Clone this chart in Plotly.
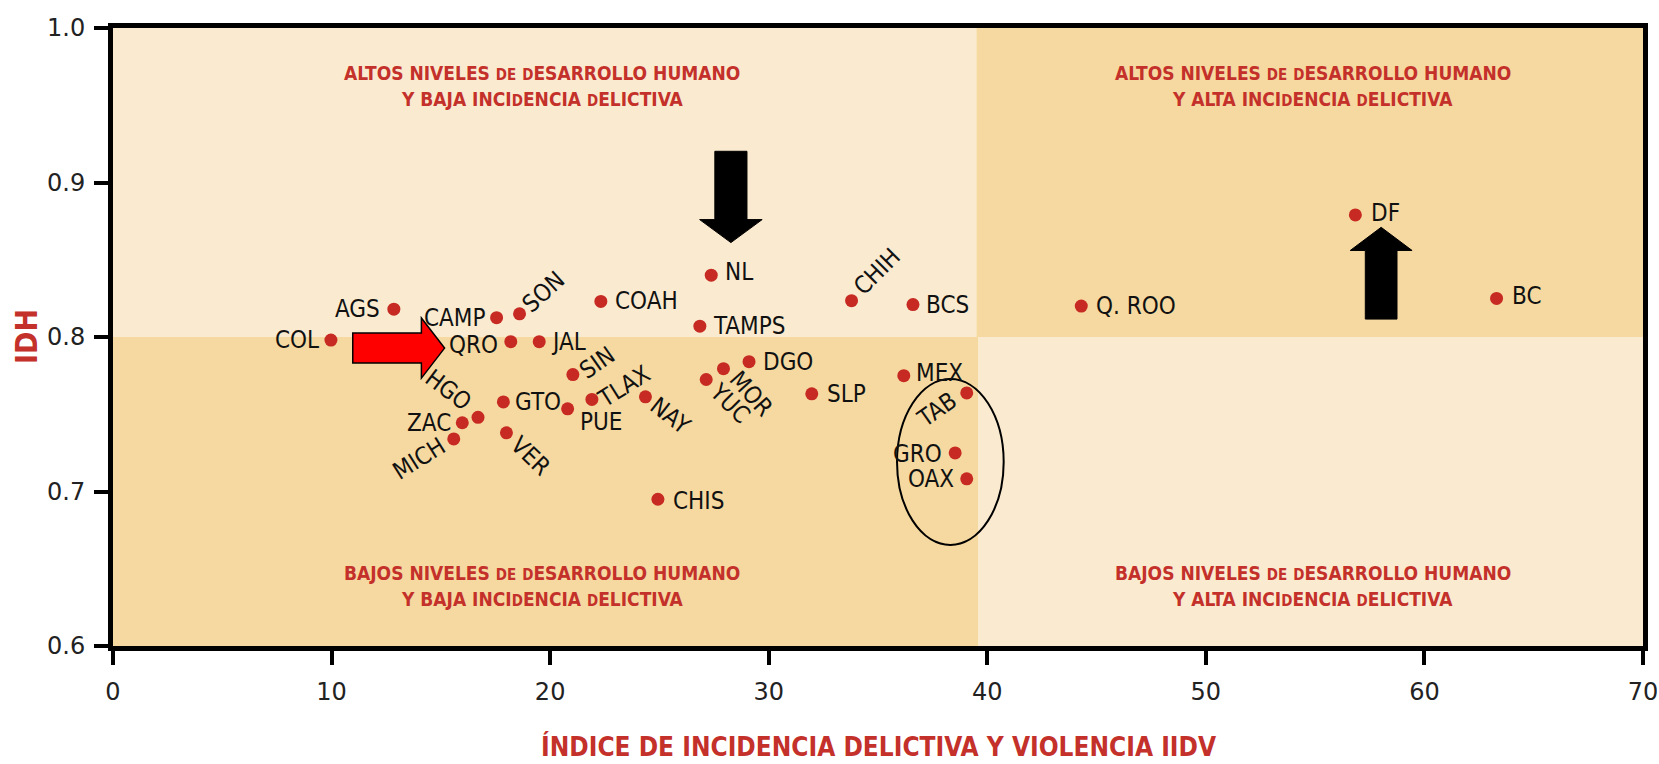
import plotly.graph_objects as go

# ─────────────────────────────────────────────
# Datos: Índice de incidencia delictiva (IIDV) vs IDH por entidad
# ─────────────────────────────────────────────

ESTADOS = ["COL", "AGS", "CAMP", "SON", "QRO", "JAL", "COAH", "NL", "TAMPS",
           "CHIH", "BCS", "Q. ROO", "DF", "BC", "DGO", "MOR", "YUC", "SIN",
           "TLAX", "NAY", "GTO", "PUE", "HGO", "ZAC", "MICH", "VER", "CHIS",
           "SLP", "MEX", "TAB", "GRO", "OAX"]
IIDV = [9.97, 12.85, 17.55, 18.6, 18.2, 19.5, 22.32, 27.37, 26.85,
        33.79, 36.6, 44.3, 56.84, 63.3, 29.1, 27.93, 27.14, 21.04,
        21.91, 24.36, 17.86, 20.8, 16.7, 15.98, 15.59, 18.0, 24.93,
        31.97, 36.18, 39.06, 38.53, 39.06]
IDH = [0.798, 0.818, 0.8125, 0.815, 0.797, 0.797, 0.823, 0.840, 0.807,
       0.8235, 0.821, 0.820, 0.879, 0.825, 0.784, 0.7795, 0.7725, 0.7757,
       0.7596, 0.7613, 0.758, 0.7535, 0.748, 0.7445, 0.734, 0.738, 0.695,
       0.7632, 0.775, 0.7638, 0.725, 0.7082]

X_TICKS = [0, 10, 20, 30, 40, 50, 60, 70]
Y_TICKS = [0.6, 0.7, 0.8, 0.9, 1.0]

# límites de cuadrantes
X_CORTE = 39.5
Y_CORTE = 0.8

# colocación de etiquetas: (anclaje, dx px, dy px, ángulo)
ETIQ = {
    "COL": ("right", -10, 0, 0), "AGS": ("right", -12, 0, 0),
    "CAMP": ("right", -9, 0, 0), "SON": ("center", 24, 22, -42),
    "QRO": ("right", -11, -3, 0), "JAL": ("left", 10, 0, 0),
    "COAH": ("left", 12, 0, 0), "NL": ("left", 12, 3, 0),
    "TAMPS": ("left", 11, 0, 0), "CHIH": ("center", 25, 29, -45),
    "BCS": ("left", 11, 0, 0), "Q. ROO": ("left", 13, 0, 0),
    "DF": ("left", 14, 2, 0), "BC": ("left", 13, 2, 0),
    "DGO": ("left", 12, 0, 0), "MOR": ("center", 28, -25, 48),
    "YUC": ("center", 23, -24, 45), "SIN": ("center", 24, 12, -35),
    "TLAX": ("center", 33, 13, -32), "NAY": ("center", 25, -19, 38),
    "GTO": ("left", 10, 0, 0), "PUE": ("left", 10, -13, 0),
    "HGO": ("center", -30, 27, 37), "ZAC": ("right", -9, 0, 0),
    "MICH": ("center", -35, -20, -32), "VER": ("center", 24, -23, 44),
    "CHIS": ("left", 13, -2, 0), "SLP": ("left", 13, 0, 0),
    "MEX": ("left", 10, 3, 0), "TAB": ("center", -30, -17, -35),
    "GRO": ("right", -11, -1, 0), "OAX": ("right", -11, 0, 0),
}

CLARO = "#FAEBD0"
OSCURO = "#F6D9A0"
ROJO = "#C4302A"
PUNTO = "#C62A22"
NARROW = "Liberation Sans Narrow, Arial Narrow, DejaVu Sans Condensed, sans-serif"
TICKS = "DejaVu Sans, Verdana, sans-serif"


def sc(t, size=15):
    """letra pequeña (versalita)"""
    return f'<span style="font-size:{size}px">{t}</span>'


fig = go.Figure()

# fondos de cuadrantes
for x0, x1, y0, y1, col in [
    (0, X_CORTE, Y_CORTE, 1.0, CLARO),
    (X_CORTE, 70, Y_CORTE, 1.0, OSCURO),
    (0, X_CORTE + 0.1, 0.6, Y_CORTE, OSCURO),
    (X_CORTE + 0.1, 70, 0.6, Y_CORTE, CLARO),
]:
    fig.add_shape(type="rect", x0=x0, x1=x1, y0=y0, y1=y1, xref="x", yref="y",
                  fillcolor=col, line_width=0, layer="below")

fig.add_trace(go.Scatter(
    x=IIDV, y=IDH, mode="markers", text=ESTADOS,
    marker=dict(color=PUNTO, size=13, line_width=0),
    showlegend=False, hoverinfo="text+x+y",
))

for nom, xv, yv in zip(ESTADOS, IIDV, IDH):
    anc, dx, dy, ang = ETIQ[nom]
    fig.add_annotation(x=xv, y=yv, text=nom, showarrow=False,
                       xanchor=anc, yanchor="middle", xshift=dx, yshift=dy,
                       textangle=ang,
                       font=dict(family=NARROW, size=24, color="#111"))

# textos de cuadrantes
D = sc("D")
lineas = {
    "tl": (f"ALTOS NIVELES {sc('DE')} {D}ESARROLLO HUMANO", f"Y BAJA INCI{D}ENCIA {D}ELICTIVA"),
    "tr": (f"ALTOS NIVELES {sc('DE')} {D}ESARROLLO HUMANO", f"Y ALTA INCI{D}ENCIA {D}ELICTIVA"),
    "bl": (f"BAJOS NIVELES {sc('DE')} {D}ESARROLLO HUMANO", f"Y BAJA INCI{D}ENCIA {D}ELICTIVA"),
    "br": (f"BAJOS NIVELES {sc('DE')} {D}ESARROLLO HUMANO", f"Y ALTA INCI{D}ENCIA {D}ELICTIVA"),
}
pos = {"tl": (19.65, 0.9623), "tr": (54.9, 0.9623), "bl": (19.65, 0.6389), "br": (54.9, 0.6389)}
for k, (l1, l2) in lineas.items():
    px_, py_ = pos[k]
    for txt, sh in [(l1, 13), (l2, -13)]:
        fig.add_annotation(x=px_, y=py_, text=f"<b>{txt}</b>", showarrow=False,
                           yshift=sh, xanchor="center", yanchor="middle",
                           font=dict(family=NARROW, size=19, color=ROJO))


def flecha_v(xc, hs, hh, y_cola, y_base, y_punta, color="black"):
    """flecha vertical de bloque (coordenadas de datos)"""
    p = (f"M {xc-hs},{y_cola} L {xc+hs},{y_cola} L {xc+hs},{y_base} "
         f"L {xc+hh},{y_base} L {xc},{y_punta} L {xc-hh},{y_base} "
         f"L {xc-hs},{y_base} Z")
    fig.add_shape(type="path", path=p, xref="x", yref="y",
                  fillcolor=color, line=dict(color=color, width=1))


# flecha hacia abajo sobre NL, flecha hacia arriba bajo DF
flecha_v(28.27, 0.735, 1.43, 0.9202, 0.8760, 0.8611)
flecha_v(58.02, 0.725, 1.415, 0.8116, 0.8560, 0.8710)

# flecha roja hacia QRO
p = ("M 10.97,0.8026 L 14.11,0.8026 L 14.11,0.8123 L 15.17,0.7928 "
     "L 14.11,0.7734 L 14.11,0.7831 L 10.97,0.7831 Z")
fig.add_shape(type="path", path=p, xref="x", yref="y",
              fillcolor="#FF0000", line=dict(color="black", width=1.5))

# elipse TAB / GRO / OAX
fig.add_shape(type="circle", x0=35.87, x1=40.75, y0=0.6654, y1=0.7728,
              xref="x", yref="y", line=dict(color="black", width=2))

# títulos de ejes
fig.add_annotation(xref="paper", yref="paper", x=0, y=0.5, xshift=-87,
                   text="<b>IDH</b>", textangle=-90, showarrow=False,
                   xanchor="center", yanchor="middle",
                   font=dict(family=NARROW, size=30, color=ROJO))
fig.add_annotation(xref="paper", yref="paper", x=0.5, y=0, yshift=-100,
                   text="<b>ÍNDICE DE INCIDENCIA DELICTIVA Y VIOLENCIA IIDV</b>",
                   showarrow=False, xanchor="center", yanchor="middle",
                   font=dict(family=NARROW, size=26, color=ROJO))

fig.update_xaxes(
    range=[0, 70], tickvals=X_TICKS, showgrid=False, zeroline=False,
    showline=True, linewidth=5, linecolor="black", mirror=True,
    ticks="outside", ticklen=14, tickwidth=4, tickcolor="black",
    ticklabelstandoff=6, automargin=False,
    tickfont=dict(family=TICKS, size=24, color="#222"),
)
fig.update_yaxes(
    range=[0.6, 1.0], tickvals=Y_TICKS, tickformat=".1f", showgrid=False,
    zeroline=False, showline=True, linewidth=5, linecolor="black", mirror=True,
    ticks="outside", ticklen=14, tickwidth=4, tickcolor="black",
    ticklabelstandoff=4, automargin=False,
    tickfont=dict(family=TICKS, size=24, color="#222"),
)
fig.update_layout(
    width=1659, height=764,
    margin=dict(l=113, r=16, t=28, b=118),
    plot_bgcolor="white", paper_bgcolor="white",
)

# sin margen de página, sin barras de desplazamiento ni barra de herramientas
fig.write_html("out.html",
               config={"displayModeBar": False},
               post_script="document.body.style.margin='0';"
                           "document.body.style.overflow='hidden';")
